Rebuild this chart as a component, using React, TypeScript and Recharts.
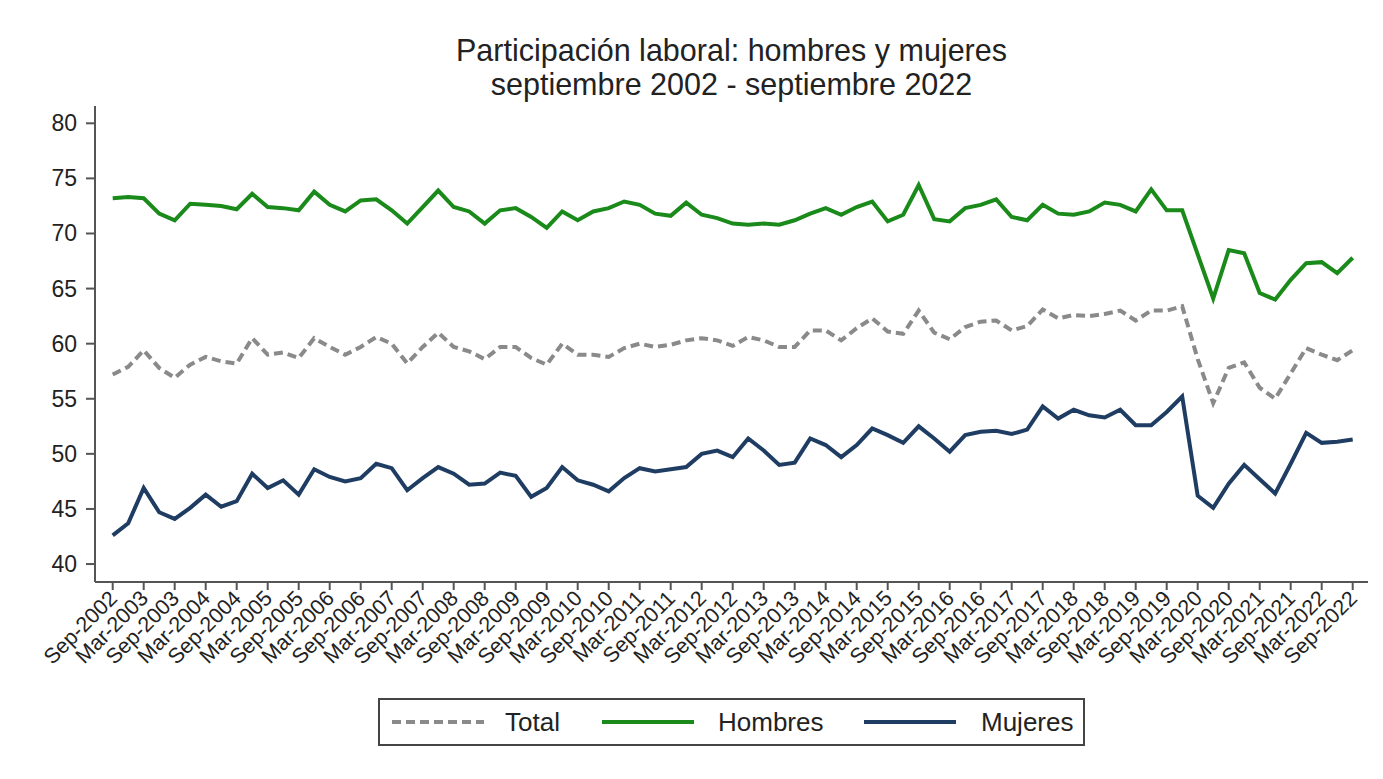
import React from 'react';
import { LineChart, Line, XAxis, YAxis } from 'recharts';

const quarters = [
  'Sep-2002', 'Dec-2002',
  'Mar-2003', 'Jun-2003', 'Sep-2003', 'Dec-2003',
  'Mar-2004', 'Jun-2004', 'Sep-2004', 'Dec-2004',
  'Mar-2005', 'Jun-2005', 'Sep-2005', 'Dec-2005',
  'Mar-2006', 'Jun-2006', 'Sep-2006', 'Dec-2006',
  'Mar-2007', 'Jun-2007', 'Sep-2007', 'Dec-2007',
  'Mar-2008', 'Jun-2008', 'Sep-2008', 'Dec-2008',
  'Mar-2009', 'Jun-2009', 'Sep-2009', 'Dec-2009',
  'Mar-2010', 'Jun-2010', 'Sep-2010', 'Dec-2010',
  'Mar-2011', 'Jun-2011', 'Sep-2011', 'Dec-2011',
  'Mar-2012', 'Jun-2012', 'Sep-2012', 'Dec-2012',
  'Mar-2013', 'Jun-2013', 'Sep-2013', 'Dec-2013',
  'Mar-2014', 'Jun-2014', 'Sep-2014', 'Dec-2014',
  'Mar-2015', 'Jun-2015', 'Sep-2015', 'Dec-2015',
  'Mar-2016', 'Jun-2016', 'Sep-2016', 'Dec-2016',
  'Mar-2017', 'Jun-2017', 'Sep-2017', 'Dec-2017',
  'Mar-2018', 'Jun-2018', 'Sep-2018', 'Dec-2018',
  'Mar-2019', 'Jun-2019', 'Sep-2019', 'Dec-2019',
  'Mar-2020', 'Jun-2020', 'Sep-2020', 'Dec-2020',
  'Mar-2021', 'Jun-2021', 'Sep-2021', 'Dec-2021',
  'Mar-2022', 'Jun-2022', 'Sep-2022',
];

const tickLabels = [
  'Sep-2002', 'Mar-2003', 'Sep-2003', 'Mar-2004', 'Sep-2004', 'Mar-2005', 'Sep-2005',
  'Mar-2006', 'Sep-2006', 'Mar-2007', 'Sep-2007', 'Mar-2008', 'Sep-2008', 'Mar-2009',
  'Sep-2009', 'Mar-2010', 'Sep-2010', 'Mar-2011', 'Sep-2011', 'Mar-2012', 'Sep-2012',
  'Mar-2013', 'Sep-2013', 'Mar-2014', 'Sep-2014', 'Mar-2015', 'Sep-2015', 'Mar-2016',
  'Sep-2016', 'Mar-2017', 'Sep-2017', 'Mar-2018', 'Sep-2018', 'Mar-2019', 'Sep-2019',
  'Mar-2020', 'Sep-2020', 'Mar-2021', 'Sep-2021', 'Mar-2022', 'Sep-2022',
];

const total = [
  57.2, 57.9, 59.4, 57.8, 56.9, 58.1, 58.8, 58.4, 58.2, 60.5,
  59.0, 59.2, 58.7, 60.5, 59.7, 59.0, 59.7, 60.6, 60.0, 58.2,
  59.7, 61.0, 59.7, 59.3, 58.6, 59.7, 59.7, 58.7, 58.1, 60.0,
  59.0, 59.0, 58.8, 59.6, 60.0, 59.7, 59.9, 60.3, 60.5, 60.3,
  59.8, 60.6, 60.3, 59.7, 59.7, 61.2, 61.2, 60.3, 61.4, 62.3,
  61.1, 60.9, 63.0, 61.0, 60.4, 61.5, 62.0, 62.1, 61.2, 61.6,
  63.1, 62.3, 62.6, 62.5, 62.7, 63.0, 62.1, 63.0, 63.0, 63.4,
  58.6, 54.6, 57.8, 58.3, 56.0, 55.0, 57.3, 59.6, 59.0, 58.5,
  59.4,
];

const hombres = [
  73.2, 73.3, 73.2, 71.8, 71.2, 72.7, 72.6, 72.5, 72.2, 73.6,
  72.4, 72.3, 72.1, 73.8, 72.6, 72.0, 73.0, 73.1, 72.1, 70.9,
  72.4, 73.9, 72.4, 72.0, 70.9, 72.1, 72.3, 71.5, 70.5, 72.0,
  71.2, 72.0, 72.3, 72.9, 72.6, 71.8, 71.6, 72.8, 71.7, 71.4,
  70.9, 70.8, 70.9, 70.8, 71.2, 71.8, 72.3, 71.7, 72.4, 72.9,
  71.1, 71.7, 74.4, 71.3, 71.1, 72.3, 72.6, 73.1, 71.5, 71.2,
  72.6, 71.8, 71.7, 72.0, 72.8, 72.6, 72.0, 74.0, 72.1, 72.1,
  68.1, 64.1, 68.5, 68.2, 64.6, 64.0, 65.8, 67.3, 67.4, 66.4,
  67.8,
];

const mujeres = [
  42.6, 43.7, 46.9, 44.7, 44.1, 45.1, 46.3, 45.2, 45.7, 48.2,
  46.9, 47.6, 46.3, 48.6, 47.9, 47.5, 47.8, 49.1, 48.7, 46.7,
  47.8, 48.8, 48.2, 47.2, 47.3, 48.3, 48.0, 46.1, 46.9, 48.8,
  47.6, 47.2, 46.6, 47.8, 48.7, 48.4, 48.6, 48.8, 50.0, 50.3,
  49.7, 51.4, 50.3, 49.0, 49.2, 51.4, 50.8, 49.7, 50.8, 52.3,
  51.7, 51.0, 52.5, 51.4, 50.2, 51.7, 52.0, 52.1, 51.8, 52.2,
  54.3, 53.2, 54.0, 53.5, 53.3, 54.0, 52.6, 52.6, 53.8, 55.2,
  46.2, 45.1, 47.3, 49.0, 47.7, 46.4, 49.1, 51.9, 51.0, 51.1,
  51.3,
];

const yTicks = [40, 45, 50, 55, 60, 65, 70, 75, 80];

const data = quarters.map((q, i) => ({
  q,
  total: total[i],
  hombres: hombres[i],
  mujeres: mujeres[i],
}));

const FONT = '"Liberation Sans", Arial, Helvetica, sans-serif';
const TEXT = '#222222';
const AXIS = '#555555';
const GREEN = '#1a8a1a';
const NAVY = '#1f3d63';
const GRAY = '#8a8a8a';

const XTick = (props: any) => {
  const { x, y, payload } = props;
  return (
    <text
      x={x}
      y={y}
      dy={8}
      textAnchor="end"
      transform={`rotate(-45, ${x}, ${y})`}
      fill={TEXT}
      fontSize={21.5}
      fontFamily={FONT}
    >
      {payload.value}
    </text>
  );
};

const YTick = (props: any) => {
  const { x, y, payload } = props;
  return (
    <text x={x} y={y} dy={8} textAnchor="end" fill={TEXT} fontSize={23} fontFamily={FONT}>
      {payload.value}
    </text>
  );
};

const legendItems = [
  { label: 'Total', color: GRAY, dash: '9 5', lineX: 12, textX: 125 },
  { label: 'Hombres', color: GREEN, dash: undefined, lineX: 222, textX: 338 },
  { label: 'Mujeres', color: NAVY, dash: undefined, lineX: 484, textX: 601 },
];

export default function App() {
  return (
    <div style={{ position: 'absolute', left: 0, top: 0, width: 1383, height: 779, background: '#ffffff', fontFamily: FONT }}>
      <div
        style={{
          position: 'absolute',
          left: 95,
          width: 1273,
          top: 33,
          textAlign: 'center',
          fontSize: 30.5,
          lineHeight: '34px',
          color: TEXT,
        }}
      >
        <div>Participación laboral: hombres y mujeres</div>
        <div>septiembre 2002 - septiembre 2022</div>
      </div>
      <LineChart
        width={1383}
        height={779}
        data={data}
        margin={{ top: 106, right: 15, left: 35, bottom: 107 }}
      >
        <XAxis
          dataKey="q"
          ticks={tickLabels}
          interval={0}
          tick={<XTick />}
          tickSize={8}
          tickMargin={4}
          height={90}
          padding={{ left: 17.7, right: 15.3 }}
          stroke={AXIS}
          strokeWidth={2}
        />
        <YAxis
          domain={[38.37, 81.57]}
          ticks={yTicks}
          interval={0}
          tick={<YTick />}
          tickSize={9}
          tickMargin={9}
          width={60}
          allowDataOverflow
          stroke={AXIS}
          strokeWidth={2}
        />
        <Line
          type="linear"
          dataKey="total"
          stroke={GRAY}
          strokeWidth={4}
          strokeDasharray="9 5"
          dot={false}
          isAnimationActive={false}
        />
        <Line
          type="linear"
          dataKey="hombres"
          stroke={GREEN}
          strokeWidth={4}
          dot={false}
          isAnimationActive={false}
        />
        <Line
          type="linear"
          dataKey="mujeres"
          stroke={NAVY}
          strokeWidth={4}
          dot={false}
          isAnimationActive={false}
        />
      </LineChart>
      <div
        style={{
          position: 'absolute',
          left: 378,
          top: 698,
          width: 707,
          height: 48,
          border: '2px solid #444',
          boxSizing: 'border-box',
        }}
      >
        {legendItems.map((it) => (
          <React.Fragment key={it.label}>
            <svg width={92} height={10} style={{ position: 'absolute', left: it.lineX, top: 17, display: 'block' }}>
              <line x1={0} y1={5} x2={92} y2={5} stroke={it.color} strokeWidth={4} strokeDasharray={it.dash} />
            </svg>
            <span
              style={{
                position: 'absolute',
                left: it.textX,
                top: 6,
                fontSize: 26,
                lineHeight: '32px',
                color: TEXT,
                whiteSpace: 'nowrap',
              }}
            >
              {it.label}
            </span>
          </React.Fragment>
        ))}
      </div>
    </div>
  );
}
